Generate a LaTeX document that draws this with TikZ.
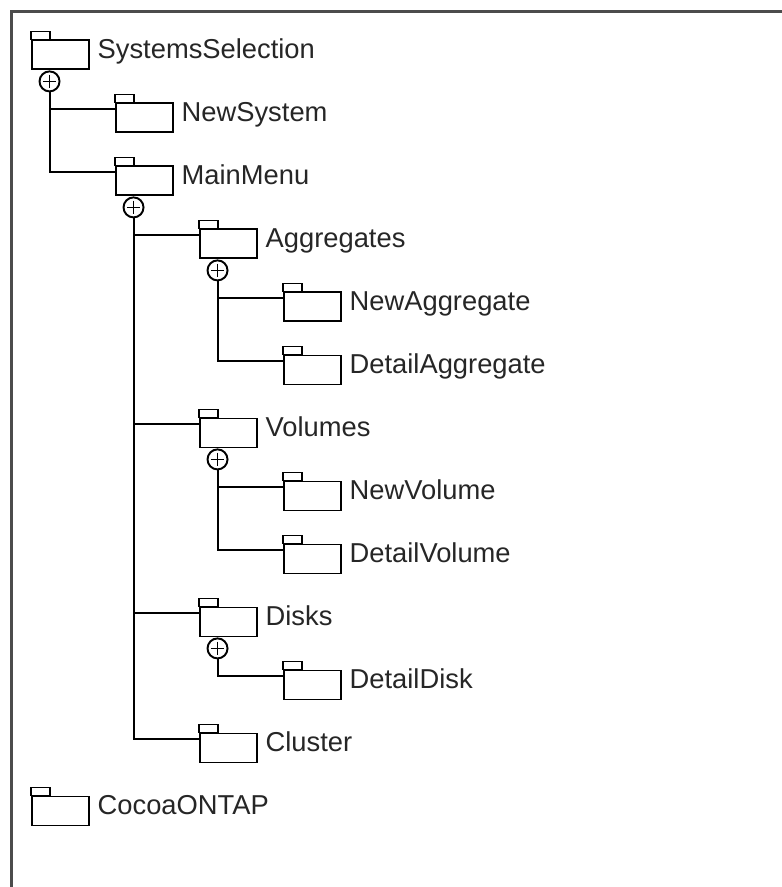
\documentclass[tikz,border=0pt]{standalone}
\usepackage{fontspec}
\setmainfont{Liberation Sans}
\usetikzlibrary{positioning}

\begin{document}
\begin{tikzpicture}[x=0.75pt,y=-0.75pt]
			\tikzset{pkg/.style = {draw,line width=1.45pt,minimum width=42.75pt,minimum height=21.75pt,inner sep=0pt,anchor=north west}}
			\tikzset{plus/.style = {circle,draw,line width=1.45pt,minimum size=15pt,inner sep=0pt,anchor=north,
				path picture={\draw[line width=1.2pt] ([xshift=2.5pt]path picture bounding box.west) -- ([xshift=-2.5pt]path picture bounding box.east)
					([yshift=-2.5pt]path picture bounding box.north) -- ([yshift=2.5pt]path picture bounding box.south);}}}
			\tikzset{lbl/.style = {anchor=base west,inner sep=0pt,text=black!85,font=\fontsize{20.5pt}{24pt}\selectfont}}
			\tikzset{conn/.style = {line width=1.45pt}}

			\useasboundingbox (0,0) rectangle (781,887);
			\draw[line width=1.9pt,black!70] (795,11.5) -- (11.5,11.5) -- (11.5,900);

			\node[pkg] (sel) at (31,39.5) {};
			\node[pkg] (newsys) at (115,102.5) {};
			\node[pkg] (main) at (115,165.5) {};
			\node[pkg] (aggr) at (199,228.5) {};
			\node[pkg] (newaggr) at (283,291.5) {};
			\node[pkg] (detaggr) at (283,354.5) {};
			\node[pkg] (vol) at (199,417.5) {};
			\node[pkg] (newvol) at (283,480.5) {};
			\node[pkg] (detvol) at (283,543.5) {};
			\node[pkg] (disks) at (199,606.5) {};
			\node[pkg] (detdisk) at (283,669.5) {};
			\node[pkg] (cluster) at (199,732.5) {};
			\node[pkg] (cocoa) at (31,795.5) {};

			% folder tabs
			\foreach \n in {sel,newsys,main,aggr,newaggr,detaggr,vol,newvol,detvol,disks,detdisk,cluster,cocoa}
				\draw[conn] (\n.north west) rectangle ++(14.25pt,6pt);

			\node[lbl] (sel-t) at ([xshift=5.6pt,yshift=-14.5pt]sel.north east) {SystemsSelection};
			\node[lbl] (newsys-t) at ([xshift=5.6pt,yshift=-14.5pt]newsys.north east) {NewSystem};
			\node[lbl] (main-t) at ([xshift=5.6pt,yshift=-14.5pt]main.north east) {MainMenu};
			\node[lbl] (aggr-t) at ([xshift=5.6pt,yshift=-14.5pt]aggr.north east) {Aggregates};
			\node[lbl] (newaggr-t) at ([xshift=5.6pt,yshift=-14.5pt]newaggr.north east) {NewAggregate};
			\node[lbl] (detaggr-t) at ([xshift=5.6pt,yshift=-14.5pt]detaggr.north east) {DetailAggregate};
			\node[lbl] (vol-t) at ([xshift=5.6pt,yshift=-14.5pt]vol.north east) {Volumes};
			\node[lbl] (newvol-t) at ([xshift=5.6pt,yshift=-14.5pt]newvol.north east) {NewVolume};
			\node[lbl] (detvol-t) at ([xshift=5.6pt,yshift=-14.5pt]detvol.north east) {DetailVolume};
			\node[lbl] (disks-t) at ([xshift=5.6pt,yshift=-14.5pt]disks.north east) {Disks};
			\node[lbl] (detdisk-t) at ([xshift=5.6pt,yshift=-14.5pt]detdisk.north east) {DetailDisk};
			\node[lbl] (cluster-t) at ([xshift=5.6pt,yshift=-14.5pt]cluster.north east) {Cluster};
			\node[lbl] (cocoa-t) at ([xshift=5.6pt,yshift=-14.5pt]cocoa.north east) {CocoaONTAP};

			% containment circles
			\node[plus] (sel-p) at ([xshift=13.9pt]sel.south west) {};
			\node[plus] (main-p) at ([xshift=13.9pt]main.south west) {};
			\node[plus] (aggr-p) at ([xshift=13.9pt]aggr.south west) {};
			\node[plus] (vol-p) at ([xshift=13.9pt]vol.south west) {};
			\node[plus] (disks-p) at ([xshift=13.9pt]disks.south west) {};

			\draw[conn] (sel-p) |- ([yshift=-5pt]newsys.north west);
			\draw[conn] (sel-p) |- ([yshift=-5pt]main.north west);
			\draw[conn] (main-p) |- ([yshift=-5pt]aggr.north west);
			\draw[conn] (main-p) |- ([yshift=-5pt]vol.north west);
			\draw[conn] (main-p) |- ([yshift=-5pt]disks.north west);
			\draw[conn] (main-p) |- ([yshift=-5pt]cluster.north west);
			\draw[conn] (aggr-p) |- ([yshift=-5pt]newaggr.north west);
			\draw[conn] (aggr-p) |- ([yshift=-5pt]detaggr.north west);
			\draw[conn] (vol-p) |- ([yshift=-5pt]newvol.north west);
			\draw[conn] (vol-p) |- ([yshift=-5pt]detvol.north west);
			\draw[conn] (disks-p) |- ([yshift=-5pt]detdisk.north west);
		\end{tikzpicture}
\end{document}
